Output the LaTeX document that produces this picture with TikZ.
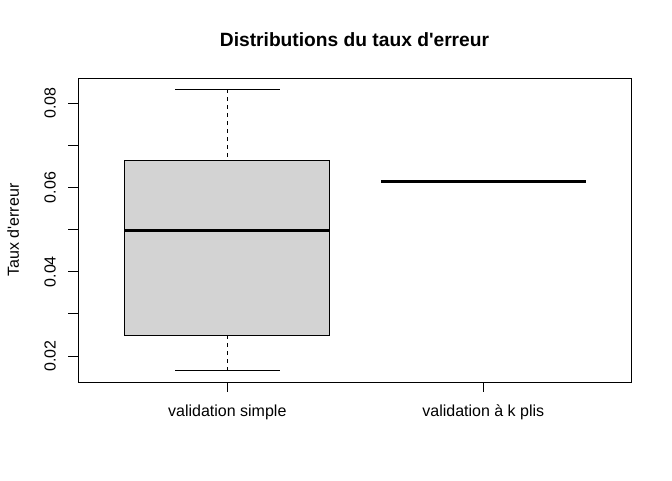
\documentclass[tikz,border=0pt]{standalone}
\usepackage{fontspec}
\setmainfont{Liberation Sans}[Ligatures=TeXOff]
\definecolor{boxgray}{RGB}{211,211,211}
\begin{document}
\begin{tikzpicture}[x=1pt,y=-1pt,
  axislabel/.style={font=\fontsize{16}{19}\selectfont, inner sep=0pt, anchor=base},
  ticklabel/.style={font=\fontsize{16}{19}\selectfont, inner sep=0pt, anchor=base, rotate=90},
  frameline/.style={line width=1pt, black},
  tickline/.style={line width=1pt, black},
  whisker/.style={line width=1pt, dash pattern=on 4pt off 4pt},
  medline/.style={line width=3pt}]
\useasboundingbox (0,0) rectangle (672,480);
\fill[white] (0,0) rectangle (672,480);
% title
\node[inner sep=0pt, anchor=base, font=\fontsize{19.2}{23}\selectfont\bfseries] (title) at (354.5,46.7) {Distributions du taux d'erreur};
% box 1
\coordinate (w1top) at (227.3,89.3);
\coordinate (w1bot) at (227.3,370.3);
\coordinate (b1top) at (227.3,160.3);
\coordinate (b1bot) at (227.3,335.3);
\draw[whisker] (w1top) -- (b1top);
\draw[whisker] (b1bot) -- (w1bot);
\draw[line width=1pt] (175,89.3) -- (279.5,89.3);
\draw[line width=1pt] (175,370.3) -- (279.5,370.3);
\filldraw[fill=boxgray, line width=1pt] (124.3,160.3) rectangle (329.3,335.3);
\draw[medline] (124.3,230.3) -- (329.3,230.3);
% box 2 (degenerate)
\draw[medline] (380.8,181.7) -- (585.8,181.7);
% frame
\draw[frameline] (78.3,78.3) rectangle (631.7,382.3);
% y axis
\foreach \yy in {103.3,145.4,187.5,229.6,271.7,313.8,356} {
  \draw[tickline] (78.3,\yy) -- (68.3,\yy);
}
\node[ticklabel] (y08) at (55.7,103.3) {0.08};
\node[ticklabel] (y06) at (55.7,187.5) {0.06};
\node[ticklabel] (y04) at (55.7,271.7) {0.04};
\node[ticklabel] (y02) at (55.7,356) {0.02};
\node[ticklabel] (ylab) at (19,230) {Taux d'erreur};
% x axis
\draw[tickline] (227.3,382.3) -- (227.3,392);
\draw[tickline] (483.3,382.3) -- (483.3,392);
\node[axislabel] (x1) at (227.3,416.7) {validation simple};
\node[axislabel] (x2) at (483.3,416.7) {validation à k plis};
\end{tikzpicture}
\end{document}
